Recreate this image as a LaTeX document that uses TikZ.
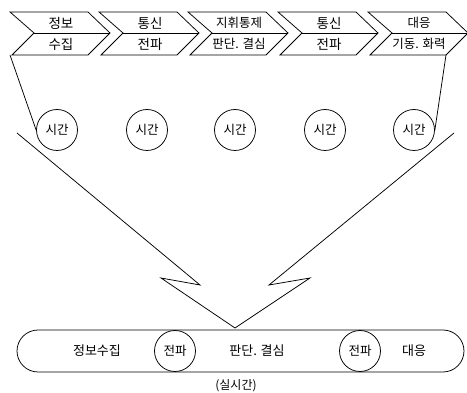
\documentclass[tikz,border=0pt]{standalone}
\usepackage{fontspec}
\setmainfont{Noto Sans CJK KR}
\begin{document}
\begin{tikzpicture}[x=1pt,y=-1pt, line width=0.75pt, line join=miter,
  lbl/.style={inner sep=0pt, font=\fontsize{12.5}{14}\selectfont},
  bigl/.style={inner sep=0pt, font=\fontsize{13.5}{15}\selectfont},
  timec/.style={circle, draw, minimum size=41pt, inner sep=0pt, font=\fontsize{12.5}{14}\selectfont},
  chev/.style={draw}]
\useasboundingbox (0,0) rectangle (467,393);
% chevrons
\foreach \L/\a/\b/\s [count=\k] in {10/정보/수집/bigl, 99/통신/전파/bigl, 188/지휘통제/{판단. 결심}/lbl, 278/통신/전파/bigl, 368/대응/{기동. 화력}/lbl}{
  \draw[chev] (\L,12) -- ({\L+78},12) -- ({\L+100},33) -- ({\L+78},55) -- ({\L+2},55) -- ({\L+24},33) -- cycle;
  \draw[chev] ({\L+24},33) -- ({\L+100},33);
  \node[\s] (top\k) at ({\L+51},23) {\a};
  \node[\s] (bot\k) at ({\L+51},44) {\b};
}
\coordinate (c1bl) at (10,55);
\coordinate (c5br) at (446,55);
% time circles
\node[timec] (t1) at (57,130) {시간};
\node[timec] (t2) at (147,130) {시간};
\node[timec] (t3) at (235,130) {시간};
\node[timec] (t4) at (325,130) {시간};
\node[timec] (t5) at (414,130) {시간};
\draw (c1bl) -- (t1.west);
\draw (c5br) -- (t5.east);
% big arrow
\coordinate (a1) at (17,133);
\coordinate (a2) at (200,285);
\coordinate (a3) at (161,278);
\coordinate (tip) at (235,328);
\coordinate (a5) at (310,278);
\coordinate (a6) at (269,285);
\coordinate (a7) at (454,133);
\draw (a1) -- (a2) -- (a3) -- (tip) -- (a5) -- (a6) -- (a7);
% bottom bar
\node[draw, rounded corners=21pt, minimum width=447pt, minimum height=42pt, inner sep=0pt] (bar) at (240.5,351) {};
\node[lbl, font=\fontsize{13}{15}\selectfont] (b1) at (97,351) {정보수집};
\node[timec] (p1) at (175,351) {전파};
\node[lbl, font=\fontsize{13}{15}\selectfont] (b2) at (257,351) {판단. 결심};
\node[timec] (p2) at (360,351) {전파};
\node[lbl, font=\fontsize{13}{15}\selectfont] (b3) at (414,351) {대응};
\node[lbl, font=\fontsize{12}{14}\selectfont] (rt) at (236,386) {(실시간)};
\end{tikzpicture}
\end{document}
